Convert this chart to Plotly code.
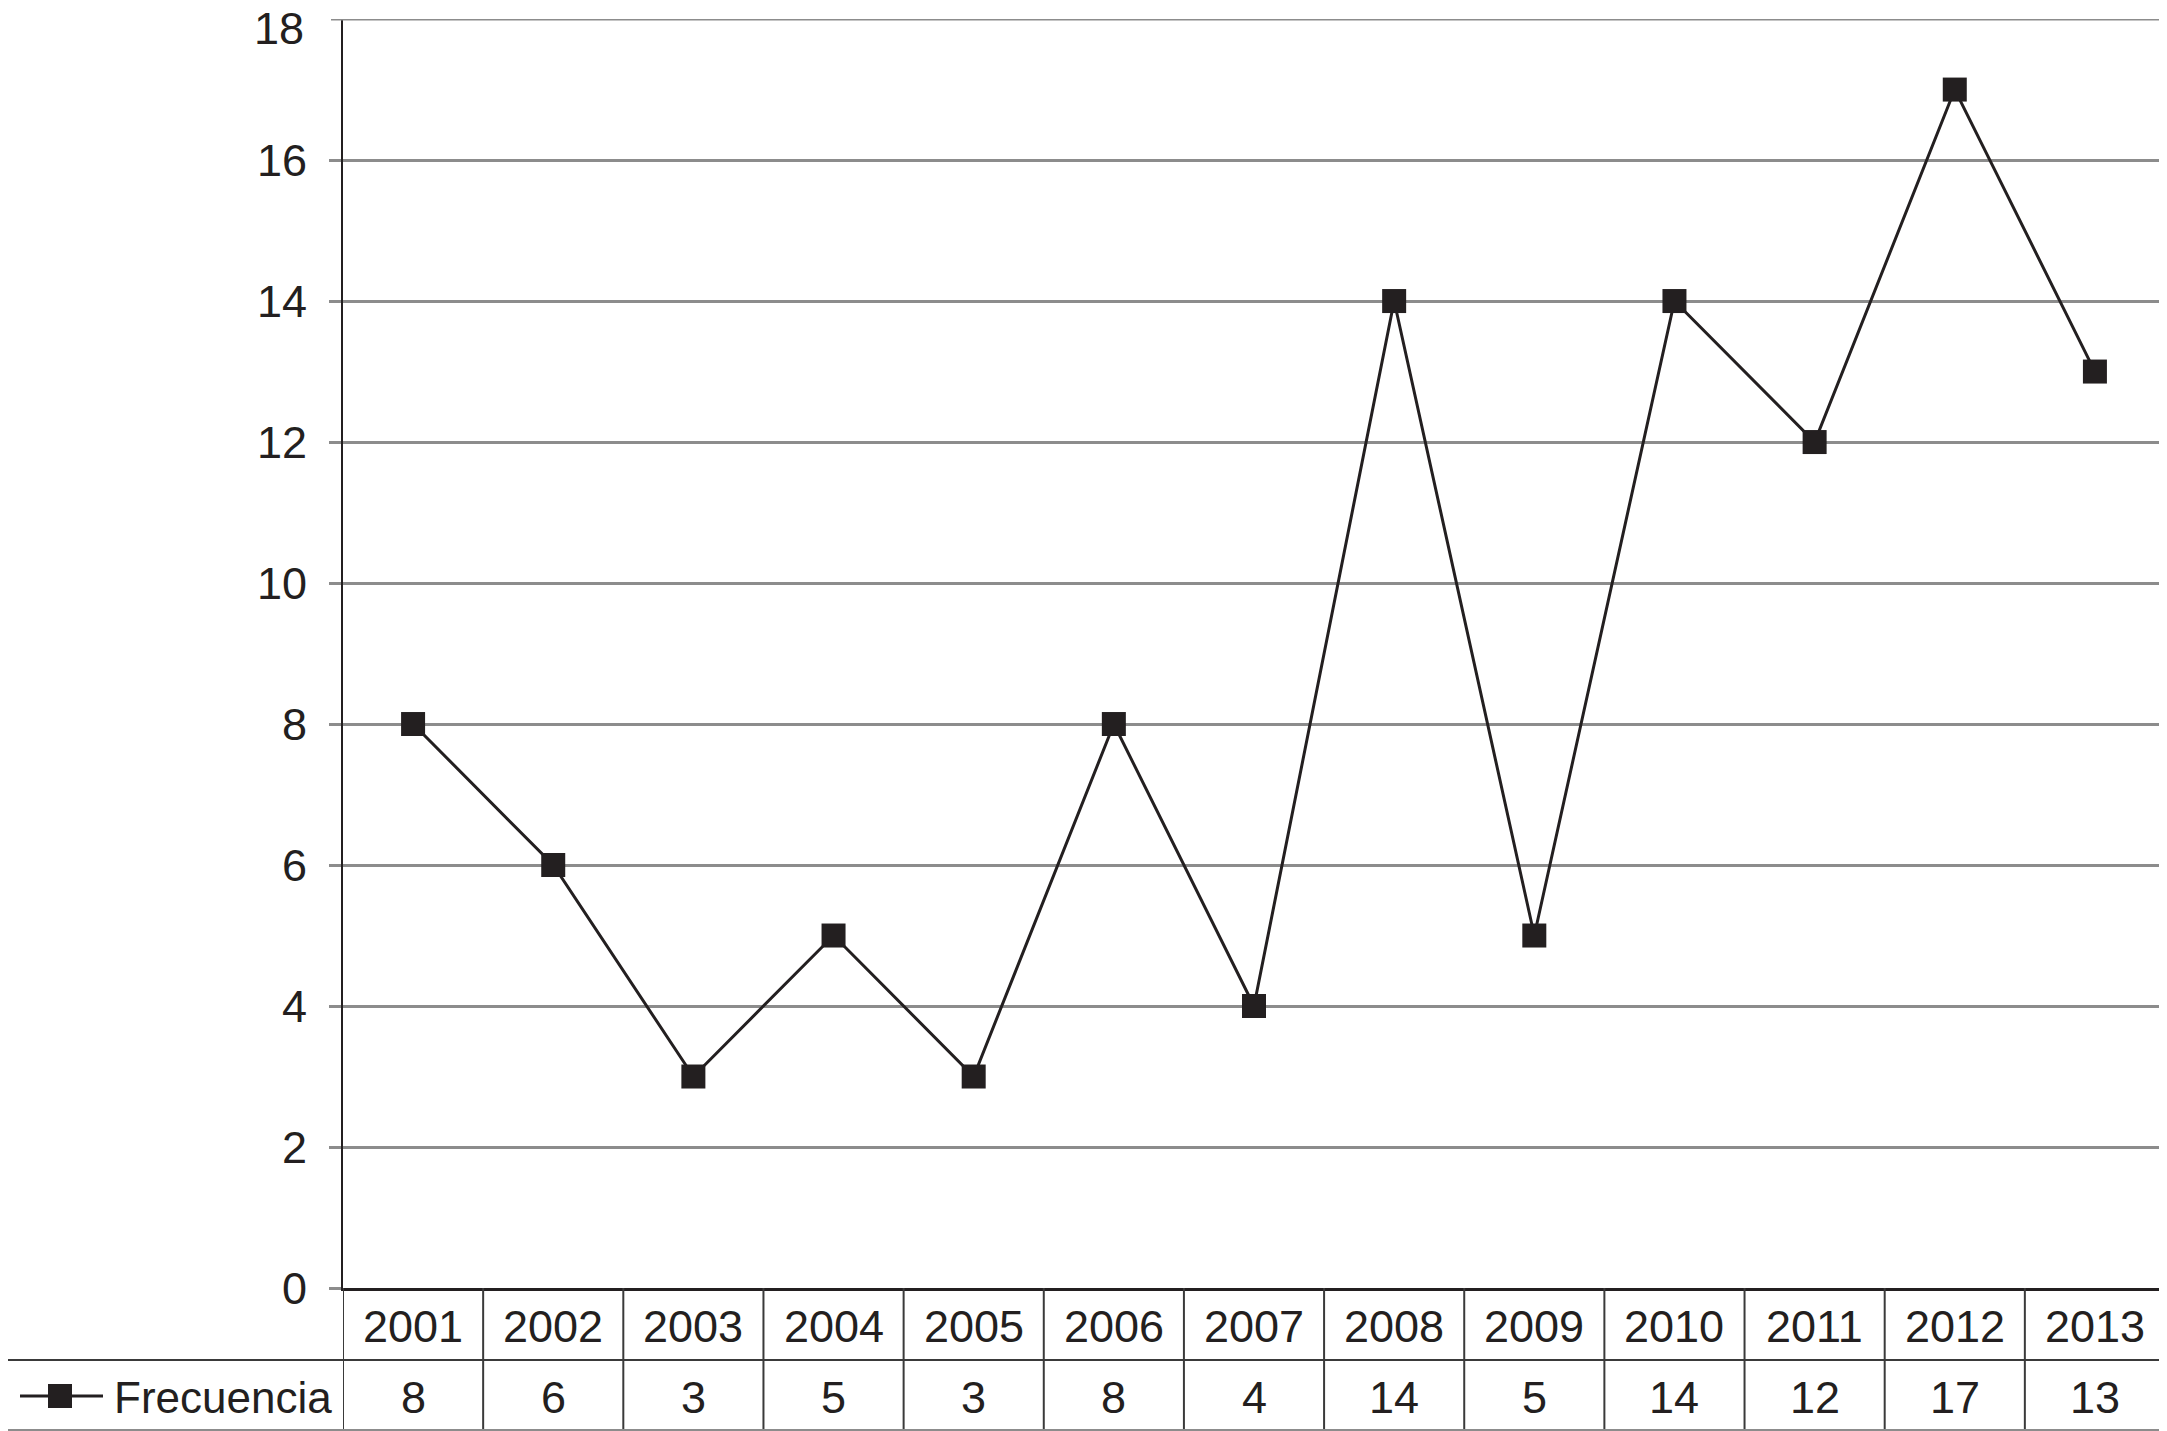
import plotly.graph_objects as go

# ---- data ----
years = ["2001", "2002", "2003", "2004", "2005", "2006", "2007",
         "2008", "2009", "2010", "2011", "2012", "2013"]
frecuencia = [8, 6, 3, 5, 3, 8, 4, 14, 5, 14, 12, 17, 13]
y_ticks = [0, 2, 4, 6, 8, 10, 12, 14, 16, 18]
series_name = "Frecuencia"

# ---- layout geometry (page pixels; the page body adds an 8px offset) ----
OFF = 8
W, H = 2167 - OFF, 1431 - OFF
L, T = 343 - OFF, 19 - OFF
BASE_PAGE = 1288
R = 2
B = H - (BASE_PAGE - OFF)
PW, PH = W - L - R, (BASE_PAGE - OFF) - T


def pyp(px):
    return (BASE_PAGE - px) / PH


def pxp(px):
    return (px - 343) / PW


FONT = "Liberation Sans, Arial, Helvetica, sans-serif"
INK = "#231f20"
GRID = "#8c8c8c"
TABLE = "#3a3a3a"
TICK_SIZE = 45

fig = go.Figure()
fig.add_trace(go.Scatter(
    x=years, y=frecuencia, name=series_name, mode="lines+markers",
    line=dict(color=INK, width=3),
    marker=dict(symbol="square", size=24, color=INK),
    showlegend=False, cliponaxis=False,
))

shapes = []
annotations = []

row_top = pyp(BASE_PAGE)
row_mid = pyp(1360)
row_bot = pyp(1430)

# vertical lines of the data table
for i in range(len(years) + 1):
    shapes.append(dict(type="line", xref="x", yref="paper",
                       x0=i - 0.5, x1=i - 0.5, y0=row_bot, y1=row_top,
                       line=dict(color=TABLE, width=2)))
# right border of plot
shapes.append(dict(type="line", xref="paper", yref="paper", x0=1, x1=1,
                   y0=row_top, y1=1, line=dict(color=GRID, width=3)))
# top gridline (y = 18) including its tick
shapes.append(dict(type="line", xref="paper", yref="y", x0=pxp(331), x1=1,
                   y0=y_ticks[-1], y1=y_ticks[-1],
                   line=dict(color=GRID, width=3)))
# horizontal lines of table
shapes.append(dict(type="line", xref="paper", yref="paper",
                   x0=pxp(3), x1=1, y0=row_mid, y1=row_mid,
                   line=dict(color=TABLE, width=2)))
shapes.append(dict(type="line", xref="paper", yref="paper",
                   x0=pxp(3), x1=1, y0=row_bot, y1=row_bot,
                   line=dict(color=GRID, width=2)))
# left border of legend cell
shapes.append(dict(type="line", xref="paper", yref="paper",
                   x0=pxp(3), x1=pxp(3), y0=row_bot, y1=row_mid,
                   line=dict(color=TABLE, width=2)))
# legend key: line + square
ky = pyp(1396)
shapes.append(dict(type="line", xref="paper", yref="paper",
                   x0=pxp(20), x1=pxp(103), y0=ky, y1=ky,
                   line=dict(color=INK, width=3)))
shapes.append(dict(type="rect", xref="paper", yref="paper",
                   x0=pxp(48), x1=pxp(72), y0=pyp(1408), y1=pyp(1384),
                   line=dict(width=0), fillcolor=INK))

# top tick label (plotly drops it at the very top edge); nudged down so it
# stays fully inside the figure
annotations.append(dict(x=pxp(306), xref="paper", y=y_ticks[-1], yref="y",
                        text=str(y_ticks[-1]), showarrow=False,
                        xanchor="right", yanchor="middle", yshift=-9,
                        font=dict(family=FONT, size=TICK_SIZE, color=INK)))

hy = pyp(1326)
dy = pyp(1397)
for i, (yr, v) in enumerate(zip(years, frecuencia)):
    annotations.append(dict(x=i, xref="x", y=hy, yref="paper", text=yr,
                            showarrow=False, yanchor="middle",
                            font=dict(family=FONT, size=45, color=INK)))
    annotations.append(dict(x=i, xref="x", y=dy, yref="paper", text=str(v),
                            showarrow=False, yanchor="middle",
                            font=dict(family=FONT, size=45, color=INK)))
annotations.append(dict(x=pxp(112), xref="paper", y=dy, yref="paper",
                        text=series_name, showarrow=False, xanchor="left",
                        yanchor="middle",
                        font=dict(family=FONT, size=44, color=INK)))

fig.update_layout(
    width=W, height=H,
    margin=dict(l=L, r=R, t=T, b=B, pad=0),
    paper_bgcolor="white", plot_bgcolor="white",
    font=dict(family=FONT, color=INK),
    xaxis=dict(type="category", range=[-0.5, len(years) - 0.5],
               showticklabels=False, showgrid=False, ticks="",
               showline=True, linecolor=INK, linewidth=3, zeroline=False),
    yaxis=dict(range=[0, 18.001], tickvals=y_ticks[:-1], showgrid=True,
               gridcolor=GRID, gridwidth=3, ticks="outside", ticklen=12,
               tickcolor=GRID, tickwidth=3, showline=True, linecolor=INK,
               linewidth=2, zeroline=False, ticklabelstandoff=13,
               tickfont=dict(family=FONT, size=TICK_SIZE, color=INK)),
    shapes=shapes, annotations=annotations, showlegend=False,
)

fig.write_html("out.html")
